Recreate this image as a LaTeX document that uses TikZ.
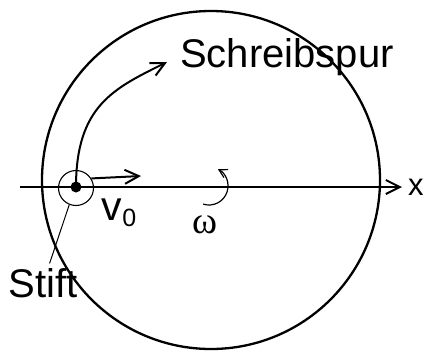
\documentclass[tikz,border=0pt]{standalone}
\usepackage{fontspec}
\setmainfont{Liberation Sans}
\newfontfamily\greekfont{Liberation Serif}
\usetikzlibrary{arrows.meta, positioning}
\tikzset{
  % Scheibe und Achse
  disk/.style={line width=2.3pt},
  barb/.style={-{Straight Barb[length=14pt, width=14pt]}, line width=2pt},
  smallbarb/.style={-{Straight Barb[length=8pt, width=9pt]}, line width=1.2pt},
  thinline/.style={line width=1pt},
  % Beschriftungen
  biglabel/.style={font=\fontsize{40}{44}\selectfont, inner sep=0pt},
  axislabel/.style={font=\fontsize{31}{34}\selectfont, inner sep=0pt},
  greeklabel/.style={font=\greekfont\fontsize{38}{42}\selectfont, inner sep=0pt},
  pinring/.style={circle, draw, line width=1.1pt, minimum size=35pt, inner sep=0pt},
  pindot/.style={circle, fill, minimum size=11pt, inner sep=0pt}
}
\begin{document}
\begin{tikzpicture}[x=1pt, y=-1pt]
  \useasboundingbox (0,0) rectangle (426,351);

  % Scheibe
  \draw[disk] (211,180) circle[radius=169];

  % Achse
  \coordinate (axstart) at (20,187);
  \coordinate (axend) at (402,187);
  \draw[barb] (axstart) -- (axend);
  \node[axislabel, right=6pt of axend] (xlab) {x};

  % Stift
  \node[pinring] (ring) at (76,188) {};
  \node[pindot] (dot) at (76,187) {};
  \node[biglabel] (stift) at (43,283) {Stift};
  \draw[thinline, shorten >=5pt] (ring.-112) -- ([xshift=5pt]stift.north);

  % Schreibspur
  \coordinate (trace) at (167,62);
  \draw[barb] (dot.center) .. controls (76,105) and (115,88) .. (trace);
  \node[biglabel] (spur) at (287,57) {Schreibspur};

  % Geschwindigkeit
  \coordinate (vtip) at (141,176);
  \draw[barb] (ring.32) -- (vtip);
  \node[inner sep=0pt] (vlab) at (119,213)
    {\fontsize{41}{44}\selectfont v\raisebox{-6pt}{\fontsize{25}{27}\selectfont 0}};

  % Drehung
  \draw[smallbarb] (209,186) ++(108:19) arc[start angle=108, end angle=-62, radius=19];
  \node[greeklabel] (omega) at (205,225) {ω};
\end{tikzpicture}
\end{document}
